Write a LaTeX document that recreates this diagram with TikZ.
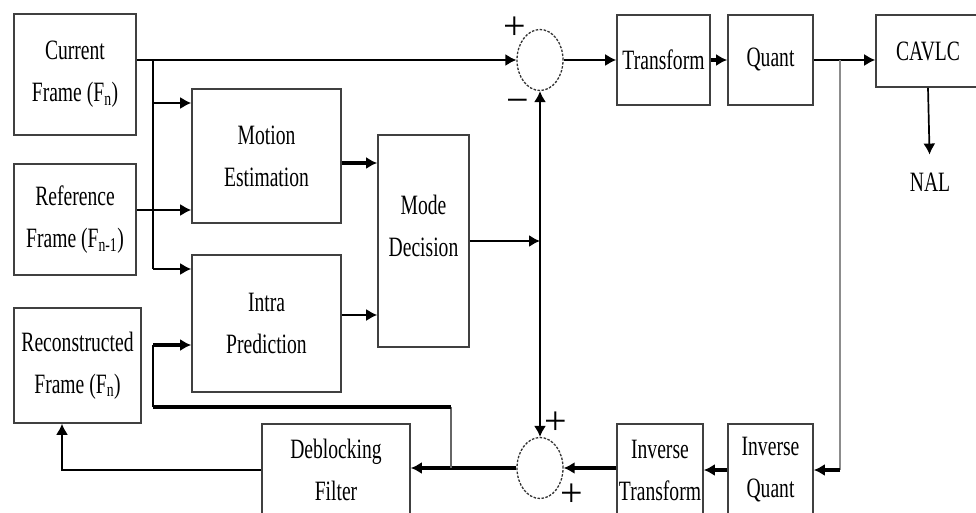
\documentclass[tikz,border=0pt]{standalone}
\usepackage{fontspec}
\setmainfont{Liberation Serif}[FakeStretch=0.7]
\newfontfamily\signfont{Liberation Serif}
\usetikzlibrary{shapes.geometric,arrows.meta}

\tikzset{
  blk/.style={draw=black!75, line width=1.6pt, align=center, inner sep=0pt},
  sumnode/.style={ellipse, draw=black!80, dash pattern=on 2.5pt off 1.5pt, line width=1.3pt,
    minimum width=46pt, minimum height=61pt, inner sep=0pt},
  wire/.style={line width=1.7pt},
  bus/.style={line width=4.5pt},
  sign/.style={font=\signfont\fontsize{40}{40}\selectfont, inner sep=0pt},
}

\begin{document}
\begin{tikzpicture}[x=1pt, y=-1pt, >={Latex[length=11pt,width=12pt]},
  font=\fontsize{28}{42}\selectfont]

\useasboundingbox (0,0) rectangle (976,513);
\clip (0,0) rectangle (976,513);

% ==== INPUT FRAMES ====
\node[blk, minimum width=122pt, minimum height=121pt] (cur) at (75,74.5) {Current\\Frame (F\textsubscript{n})};
\node[blk, minimum width=122pt, minimum height=111pt] (ref) at (75,219.5) {Reference\\Frame (F\textsubscript{n-1})};
\node[blk, minimum width=127pt, minimum height=115pt] (rec) at (77.5,365.5) {Reconstructed\\Frame (F\textsubscript{n})};

% ==== PREDICTION ====
\node[blk, minimum width=149pt, minimum height=134pt] (me) at (266.5,156) {Motion\\Estimation};
\node[blk, minimum width=149pt, minimum height=137pt] (intra) at (266.5,323.5) {Intra\\Prediction};
\node[blk, minimum width=91pt, minimum height=212pt, text depth=30pt] (mode) at (423.5,241) {Mode\\Decision};

% ==== FORWARD PATH ====
\node[sumnode] (sum1) at (540,60) {};
\node[blk, minimum width=93pt, minimum height=90pt] (tr) at (663.5,60) {Transform};
\node[blk, minimum width=85pt, minimum height=90pt] (q) at (770.5,60) {Quant};
\node[blk, minimum width=104pt, minimum height=72pt] (cavlc) at (928,51) {CAVLC};
\node[inner sep=0pt] (nal) at (930,182) {NAL};

% ==== RECONSTRUCTION PATH ====
\node[blk, minimum width=85pt, minimum height=92pt] (iq) at (770.5,470) {Inverse\\Quant};
\node[blk, minimum width=86pt, minimum height=92pt] (it) at (660,470) {Inverse\\Transform};
\node[sumnode] (sum2) at (540,468) {};
\node[blk, minimum width=148pt, minimum height=92pt] (db) at (336,470) {Deblocking\\Filter};

% ==== SIGNS ====
\node[sign] (p1) at (515,28) {+};
\node[sign] (m1) at (518,106) {−};
\node[sign] (p2) at (556,423) {+};
\node[sign] (p3) at (572,495) {+};

% ==== JUNCTIONS ====
\coordinate (tap) at (153,60);
\coordinate (tapME) at (153,103);
\coordinate (tapIP) at (153,269);
\coordinate (refOut) at ([yshift=9.5pt]ref.east);
\coordinate (meOut) at ([yshift=-7pt]me.east);
\coordinate (ipOut) at ([yshift=8.5pt]intra.east);
\coordinate (fb) at (840,60);
\coordinate (loopTap) at (451,468);
\coordinate (loopR) at (451,407);
\coordinate (loopL) at (153,407);
\coordinate (ipIn) at (153,345);
\coordinate (recIn) at ([xshift=-15.5pt]rec.south);

% ==== CONNECTIONS ====
\draw[wire,->] (cur.east |- sum1) -- (sum1.west);
\draw[wire] (tap) -- (tapIP);
\draw[wire,->] (tapME) -- (tapME -| me.west);
\draw[wire,->] (tapIP) -- (tapIP -| intra.west);
\draw[wire,->] (refOut) -- (refOut -| me.west);
\draw[bus,->] (meOut) -- (meOut -| mode.west);
\draw[wire,->] (ipOut) -- (ipOut -| mode.west);
\draw[wire,->] (mode.east) -- (mode.east -| sum1.south);
\draw[wire,<->] (sum2.north) -- (sum1.south);

\draw[wire,->] (sum1.east) -- (tr.west);
\draw[bus,->] (tr.east) -- (q.west);
\draw[wire,->] (q.east) -- (q.east -| cavlc.west);
\draw[wire,->, shorten >=18pt] (cavlc.south) -- (nal.north);

\draw[wire, black!45] (fb) -- (fb |- iq.east);
\draw[bus,->] (fb |- iq.east) -- (iq.east);
\draw[bus,->] (iq.west) -- (it.east);
\draw[bus,->] (sum2.east -| it.west) -- (sum2.east);
\draw[bus,->] (sum2.west) -- (sum2.west -| db.east);
\draw[wire,->] (db.west) -| (recIn);

% ==== INTRA LOOP ====
\draw[wire, black!60] (loopTap) -- (loopR);
\draw[bus] (loopR) -- (loopL);
\draw[wire] (loopL) -- (ipIn);
\draw[bus,->] (ipIn) -- (ipIn -| intra.west);

\end{tikzpicture}
\end{document}
